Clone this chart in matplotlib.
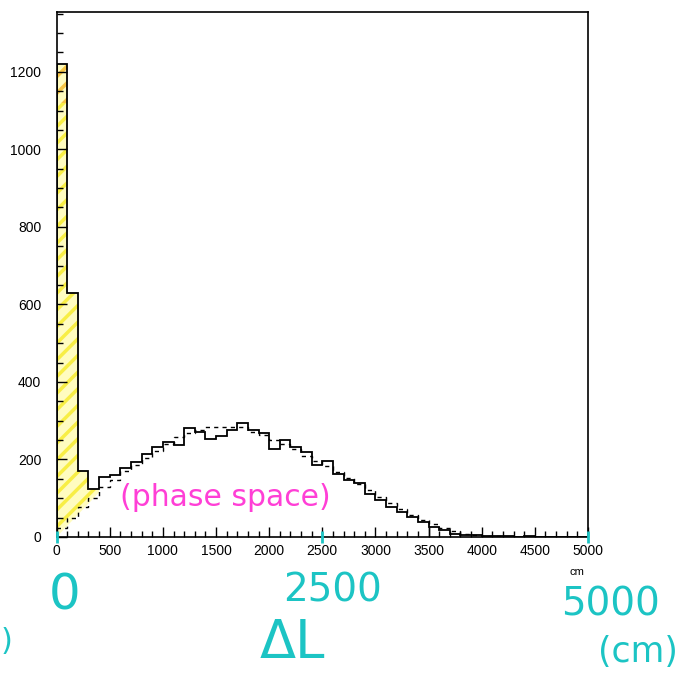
import numpy as np
import matplotlib
matplotlib.use("Agg")
import matplotlib.pyplot as plt

# Path-length difference histogram, 100 cm bins from 0 to 5000 cm
bin_edges = np.arange(0, 5001, 100)

measured = [1220, 629, 171, 123, 154, 160, 177, 194, 213, 233,
            246, 237, 282, 272, 253, 261, 276, 293, 276, 268,
            228, 250, 231, 220, 186, 197, 162, 148, 139, 112,
            95, 77, 65, 52, 38, 27, 18, 9, 6, 4,
            3, 2, 2, 1, 2, 1, 0, 1, 0, 0]

phase_space = [22, 48, 78, 100, 128, 148, 170, 186, 205, 222,
               240, 258, 268, 276, 285, 285, 285, 283, 270, 262,
               250, 240, 226, 210, 196, 183, 168, 152, 136, 120,
               103, 87, 72, 58, 45, 33, 23, 15, 9, 5,
               3, 2, 1, 1, 1, 0, 0, 0, 0, 0]

x_ticks = [0, 500, 1000, 1500, 2000, 2500, 3000, 3500, 4000, 4500, 5000]
y_ticks = [0, 200, 400, 600, 800, 1000, 1200]

# excess region highlighted below 400 cm
excess_end = 400
excess_floor_end = 115

W, H = 696, 673
fig = plt.figure(figsize=(W / 100, H / 100), dpi=100)
ax = fig.add_axes([56.6 / W, 1 - 537 / H, (588 - 56.6) / W, (537 - 11.7) / H])

# yellow hatched highlight of the low-ΔL excess
xs = np.linspace(0, excess_end, 401)
idx = np.clip((xs // 100).astype(int), 0, len(measured) - 1)
upper = np.array(measured)[idx]
lower = xs / excess_end * excess_floor_end
matplotlib.rcParams["hatch.linewidth"] = 2.5
ax.fill_between(xs, lower, upper, facecolor="#fffcc0", edgecolor="#f8ee45",
                hatch="//", linewidth=0, zorder=1)
ax.fill_between([0, 100], [1120, 1120], [1220, 1220], facecolor="none",
                edgecolor="#f7a84a", hatch="//", linewidth=0, alpha=0.6, zorder=1)

ax.stairs(phase_space, bin_edges, color="black", lw=1.0,
          linestyle=(0, (3, 3)), zorder=3)
ax.stairs(measured, bin_edges, color="black", lw=1.3, zorder=4)
ax.vlines(3500, 0, measured[35], color="black", lw=1.0, zorder=4)

ax.set_xlim(0, 5000)
ax.set_ylim(0, 1355)
ax.set_xticks(x_ticks)
ax.set_yticks(y_ticks)
ax.set_xticks(np.arange(0, 5001, 100), minor=True)
ax.set_yticks(np.arange(0, 1351, 50), minor=True)
ax.tick_params(which="both", direction="in", top=False, right=False,
               labelsize=10, width=1.0)
ax.tick_params(which="major", length=7)
ax.tick_params(which="minor", length=4)
ax.tick_params(axis="y", pad=11)
ax.tick_params(axis="x", pad=5)
for lab in ax.get_xticklabels() + ax.get_yticklabels():
    lab.set_family("Liberation Sans")
for s in ax.spines.values():
    s.set_linewidth(1.2)

fig.text(577 / W, 1 - 572 / H, "cm", fontsize=8, family="Liberation Sans",
         ha="center", va="center")

# handwritten annotations
cyan = "#1cc4c4"
magenta = "#ff3fd6"
fig.text(225 / W, 1 - 497 / H, "(phase space)", color=magenta, fontsize=21.5,
         ha="center", va="center")
fig.text(65 / W, 1 - 595 / H, "0", color=cyan, fontsize=36,
         ha="center", va="center")
fig.text(333 / W, 1 - 591 / H, "2500", color=cyan, fontsize=28,
         ha="center", va="center")
fig.text(610 / W, 1 - 605 / H, "5000", color=cyan, fontsize=28,
         ha="center", va="center")
fig.text(292 / W, 1 - 658 / H, "ΔL", color=cyan, fontsize=38,
         ha="center", va="baseline")
fig.text(638 / W, 1 - 652 / H, "(cm)", color=cyan, fontsize=25,
         ha="center", va="center")
fig.text(1 / W, 1 - 642 / H, ")", color=cyan, fontsize=22,
         ha="left", va="center")

# cyan marks on the axis at 0, 2500 and 5000
ax.plot([0, 2500, 5000], [0, 0, 0], linestyle="none", marker="|",
        markersize=9, mew=2, color=cyan, clip_on=False, zorder=5)

fig.savefig("out.png", dpi=100)
